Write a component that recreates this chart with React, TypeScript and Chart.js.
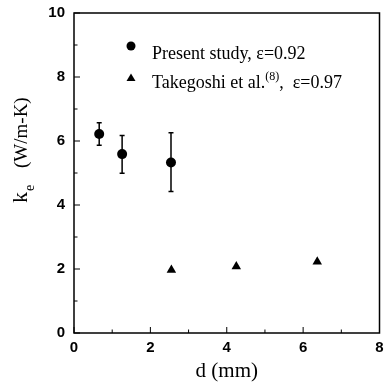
import React, { useEffect, useRef } from "react";
import { Chart, registerables } from "chart.js";

Chart.register(...registerables);

// ---- data ----
const presentX = [0.66, 1.26, 2.54];
const presentY = [6.22, 5.59, 5.33];
const presentErrHigh = [6.57, 6.17, 6.26];
const presentErrLow = [5.87, 4.99, 4.42];

const takegoshiX = [2.55, 4.25, 6.37];
const takegoshiY = [1.97, 2.08, 2.23];

const xMajorTicks = [0, 2, 4, 6, 8];
const xMinorTicks = [1, 3, 5, 7];
const yMajorTicks = [0, 2, 4, 6, 8, 10];
const yMinorTicks = [1, 3, 5, 7, 9];

const legendPresent = "Present study, ε=0.92";
const legendTakegoshiMain = "Takegoshi et al.";
const legendTakegoshiSup = "(8)";
const legendTakegoshiTail = ",  ε=0.97";
const xTitle = "d (mm)";
const yTitleMain = "k";
const yTitleSub = "e";
const yTitleUnit = "(W/m-K)";

const SERIF = "'Liberation Serif', 'Times New Roman', serif";
const SANS = "'Liberation Sans', Arial, sans-serif";

const decorPlugin = {
  id: "decor",
  beforeDatasetsDraw(chart: any) {
    const ctx = chart.ctx;
    const xs = chart.scales.x;
    const ys = chart.scales.y;
    ctx.save();
    ctx.strokeStyle = "#000";
    ctx.lineWidth = 1.5;
    for (let i = 0; i < presentX.length; i++) {
      const px = xs.getPixelForValue(presentX[i]);
      const hi = ys.getPixelForValue(presentErrHigh[i]);
      const lo = ys.getPixelForValue(presentErrLow[i]);
      ctx.beginPath();
      ctx.moveTo(px, hi);
      ctx.lineTo(px, lo);
      ctx.moveTo(px - 2.5, hi);
      ctx.lineTo(px + 2.5, hi);
      ctx.moveTo(px - 2.5, lo);
      ctx.lineTo(px + 2.5, lo);
      ctx.stroke();
    }
    ctx.restore();
  },
  afterDraw(chart: any) {
    const ctx = chart.ctx;
    const a = chart.chartArea;
    const xs = chart.scales.x;
    const ys = chart.scales.y;
    ctx.save();
    // frame
    ctx.strokeStyle = "#000";
    ctx.lineWidth = 1.5;
    ctx.strokeRect(a.left, a.top, a.right - a.left, a.bottom - a.top);
    // ticks (inward)
    ctx.lineWidth = 1;
    ctx.beginPath();
    xMajorTicks.forEach((v) => {
      const p = xs.getPixelForValue(v);
      ctx.moveTo(p, a.bottom);
      ctx.lineTo(p, a.bottom - 6);
    });
    xMinorTicks.forEach((v) => {
      const p = xs.getPixelForValue(v);
      ctx.moveTo(p, a.bottom);
      ctx.lineTo(p, a.bottom - 3.5);
    });
    yMajorTicks.forEach((v) => {
      const p = ys.getPixelForValue(v);
      ctx.moveTo(a.left, p);
      ctx.lineTo(a.left + 6, p);
    });
    yMinorTicks.forEach((v) => {
      const p = ys.getPixelForValue(v);
      ctx.moveTo(a.left, p);
      ctx.lineTo(a.left + 3.5, p);
    });
    ctx.stroke();

    ctx.fillStyle = "#000";
    // x title
    ctx.font = `21px ${SERIF}`;
    ctx.textAlign = "center";
    ctx.textBaseline = "alphabetic";
    ctx.fillText(xTitle, (a.left + a.right) / 2, 377);

    // y title (rotated)
    ctx.save();
    ctx.translate(27, 203);
    ctx.rotate(-Math.PI / 2);
    ctx.textAlign = "left";
    ctx.font = `22px ${SERIF}`;
    ctx.fillText(yTitleMain, 0, 0);
    const kw = ctx.measureText(yTitleMain).width;
    ctx.font = `14px ${SERIF}`;
    ctx.fillText(yTitleSub, kw + 1, 7);
    ctx.font = `19px ${SERIF}`;
    ctx.fillText(yTitleUnit, 35, 0);
    ctx.restore();

    // legend
    const lx = 131;
    ctx.beginPath();
    ctx.arc(lx, 46, 4.5, 0, Math.PI * 2);
    ctx.fill();
    ctx.beginPath();
    ctx.moveTo(lx, 73.5);
    ctx.lineTo(lx + 4.5, 81);
    ctx.lineTo(lx - 4.5, 81);
    ctx.closePath();
    ctx.fill();

    ctx.textAlign = "left";
    ctx.font = `18px ${SERIF}`;
    ctx.fillText(legendPresent, 152, 59);
    let tx = 152;
    ctx.fillText(legendTakegoshiMain, tx, 88);
    tx += ctx.measureText(legendTakegoshiMain).width;
    ctx.font = `12px ${SERIF}`;
    ctx.fillText(legendTakegoshiSup, tx, 80);
    tx += ctx.measureText(legendTakegoshiSup).width;
    ctx.font = `18px ${SERIF}`;
    ctx.fillText(legendTakegoshiTail, tx, 88);
    ctx.restore();
  },
};

export default function App() {
  const ref = useRef<HTMLCanvasElement | null>(null);
  useEffect(() => {
    if (!ref.current) return;
    const chart = new Chart(ref.current, {
      type: "scatter",
      data: {
        datasets: [
          {
            label: "Present study",
            data: presentX.map((x, i) => ({ x, y: presentY[i] })),
            pointStyle: "circle",
            pointRadius: 5,
            backgroundColor: "#000",
            borderColor: "#000",
            borderWidth: 0,
          },
          {
            label: "Takegoshi",
            data: takegoshiX.map((x, i) => ({ x, y: takegoshiY[i] })),
            pointStyle: "triangle",
            pointRadius: 5.5,
            backgroundColor: "#000",
            borderColor: "#000",
            borderWidth: 0,
          },
        ],
      },
      options: {
        animation: false,
        responsive: true,
        maintainAspectRatio: false,
        layout: { padding: { left: 0, top: 13, right: 3, bottom: 0 } },
        plugins: {
          legend: { display: false },
          tooltip: { enabled: false },
          title: { display: false },
        },
        scales: {
          x: {
            type: "linear",
            min: 0,
            max: 8,
            afterFit: (s: any) => {
              s.height = 52;
              s.paddingLeft = 0;
              s.paddingRight = 0;
            },
            afterBuildTicks: (s: any) => {
              s.ticks = xMajorTicks.map((v) => ({ value: v }));
            },
            grid: { display: false, drawTicks: false },
            border: { display: false },
            ticks: {
              padding: 6,
              color: "#000",
              font: { family: SANS, size: 15, weight: "bold" },
            },
          },
          y: {
            type: "linear",
            min: 0,
            max: 10,
            afterFit: (s: any) => {
              s.width = 74;
              s.paddingTop = 0;
              s.paddingBottom = 0;
            },
            afterBuildTicks: (s: any) => {
              s.ticks = yMajorTicks.map((v) => ({ value: v }));
            },
            grid: { display: false, drawTicks: false },
            border: { display: false },
            ticks: {
              padding: 9,
              color: "#000",
              font: { family: SANS, size: 15, weight: "bold" },
            },
          },
        },
      },
      plugins: [decorPlugin],
    });
    return () => chart.destroy();
  }, []);
  return (
    <div style={{ position: "absolute", left: 0, top: 0, width: 385, height: 385, background: "#fff" }}>
      <canvas ref={ref} />
    </div>
  );
}
